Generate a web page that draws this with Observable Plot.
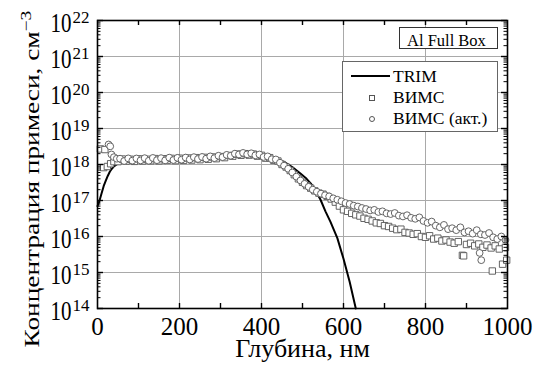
<!DOCTYPE html>
<html><head><meta charset="utf-8">
<script src="https://cdn.jsdelivr.net/npm/d3@7"></script>
<script src="https://cdn.jsdelivr.net/npm/@observablehq/plot@0.6"></script>
<style>
body{margin:0;background:#fff;}
#wrap{position:relative;width:533px;height:372px;}
#wrap svg{position:absolute;left:0;top:0;}
</style></head><body><div id="wrap"></div>
<script>
// ---- data ----
const trimDepth = [0,5,10,15,20,25,30,35,40,50,60,70,80,100,150,200,250,300,330,360,390,410,430,455,475,495,510,520,532,544,556,568,585,600,615,630];
const trimConc  = [7e16,1.0e17,1.6e17,2.5e17,3.5e17,4.8e17,6.3e17,7.6e17,8.9e17,1.07e18,1.17e18,1.22e18,1.25e18,1.28e18,1.32e18,1.36e18,1.42e18,1.52e18,1.62e18,1.72e18,1.76e18,1.72e18,1.55e18,1.18e18,8.5e17,5.6e17,4.0e17,3.0e17,1.9e17,1.05e17,5.0e16,2.6e16,9e15,2.4e15,5.5e14,1.0e14];

const simsDepth = [7,18,15,24,32,40,
  50,60,70,80,90,100,110,120,130,140,150,160,170,180,190,200,210,220,230,240,250,260,270,280,290,300,310,320,330,340,350,360,370,380,390,400,410,420,430,440,450,
  460,470,480,490,500,510,520,530,540,550,560,570,580,590,600,610,620,630,640,650,660,670,680,690,700,710,720,730,740,750,760,770,780,790,800,810,820,830,840,850,860,870,880,890,
  893,900,910,920,930,940,950,960,963,970,980,988,995,998];
const simsConc = [2.7e18,2.6e18,8.2e17,8.8e17,1.05e18,1.2e18,
  1.2e18,1.42e18,1.24e18,1.4e18,1.22e18,1.44e18,1.25e18,1.4e18,1.27e18,1.46e18,1.26e18,1.45e18,1.3e18,1.48e18,1.28e18,1.5e18,1.3e18,1.52e18,1.33e18,1.55e18,1.36e18,1.58e18,1.4e18,1.62e18,1.45e18,1.66e18,1.55e18,1.78e18,1.7e18,1.95e18,1.8e18,2.0e18,1.82e18,1.95e18,1.7e18,1.8e18,1.5e18,1.55e18,1.3e18,1.25e18,1.0e18,
  8.5e17,6.8e17,5.2e17,4.0e17,3.2e17,2.6e17,2.2e17,1.85e17,1.6e17,1.5e17,1.3e17,1.1e17,9.0e16,7.0e16,5.5e16,5.0e16,4.4e16,4.0e16,3.7e16,3.2e16,3.0e16,2.7e16,2.4e16,2.3e16,2.0e16,1.9e16,1.7e16,1.55e16,1.6e16,1.3e16,1.25e16,1.15e16,1.2e16,1.0e16,9.5e15,1.05e16,8.5e15,9.0e15,7.5e15,8.0e15,7.0e15,6.5e15,7.2e15,3.0e15,
  2.9e15,6.0e15,6.5e15,5.5e15,6.2e15,5.0e15,5.8e15,4.8e15,1.1e15,5.5e15,4.5e15,1.7e15,5.0e15,2.2e15];

const simsActDepth = [27,31,34,40,47,
  55,65,75,85,95,105,115,125,135,145,155,165,175,185,195,205,215,225,235,245,255,265,275,285,295,305,315,325,335,345,355,365,375,385,395,405,415,425,435,445,
  455,465,475,485,495,505,515,525,535,545,555,565,575,585,595,605,615,625,635,645,655,665,675,685,695,705,715,725,735,745,755,765,775,785,795,805,815,825,835,845,855,865,875,885,895,905,915,925,935,945,955,965,975,985,995,
  932,936];
const simsActConc = [3.6e18,3.2e18,1.9e18,1.6e18,1.45e18,
  1.45e18,1.25e18,1.48e18,1.28e18,1.47e18,1.3e18,1.5e18,1.27e18,1.52e18,1.32e18,1.5e18,1.3e18,1.55e18,1.33e18,1.53e18,1.36e18,1.56e18,1.38e18,1.6e18,1.42e18,1.62e18,1.45e18,1.68e18,1.5e18,1.75e18,1.6e18,1.85e18,1.75e18,2.0e18,1.9e18,2.1e18,1.92e18,2.05e18,1.8e18,1.9e18,1.62e18,1.68e18,1.4e18,1.38e18,1.12e18,
  9.3e17,7.6e17,6.0e17,4.6e17,3.6e17,2.9e17,2.4e17,2.0e17,1.75e17,1.55e17,1.4e17,1.3e17,1.15e17,1.05e17,9.5e16,8.5e16,8.0e16,7.2e16,6.8e16,6.2e16,5.8e16,5.3e16,5.5e16,4.8e16,5.0e16,4.4e16,4.2e16,4.5e16,3.8e16,3.6e16,3.9e16,3.3e16,3.1e16,3.4e16,2.7e16,2.4e16,2.6e16,2.0e16,1.8e16,2.1e16,1.6e16,1.7e16,1.5e16,1.8e16,1.3e16,1.4e16,1.2e16,1.5e16,1.15e16,1.1e16,1.25e16,9.5e15,8.5e15,1.0e16,8.0e15,
  3.5e15,2.2e15];

const xLabels = [0,200,400,600,800,1000];
const xGrid = [200,400,600,800];
const xTickMarks = [100,200,300,400,500,600,700,800,900];
const yMajor = [1e14,1e15,1e16,1e17,1e18,1e19,1e20,1e21,1e22];
const yMinorMult = [2,3,4,5,6,7,8,9];
const xTitle = "Глубина, нм";
const yTitle = "Концентрация примеси, см";
const yTitleSup = "−3";
const seriesNames = ["TRIM","ВИМС","ВИМС (акт.)"];
const boxLabel = "Al Full Box";

// ---- tables ----
const trim = trimDepth.map((d,i)=>({depth:d, conc:trimConc[i]}));
const sims = simsDepth.map((d,i)=>({depth:d, conc:simsConc[i]}));
const simsAct = simsActDepth.map((d,i)=>({depth:d, conc:simsActConc[i]}));
const yMinor = yMajor.slice(0,-1).flatMap(d=>yMinorMult.map(m=>m*d));

const W=533,H=372,mL=97,mR=26,mT=20,mB=64;
const plotW=W-mL-mR, plotH=H-mT-mB;
const font='"Liberation Serif","Times New Roman",serif';

const chart = Plot.plot({
  width:W, height:H, marginLeft:mL, marginRight:mR, marginTop:mT, marginBottom:mB,
  style:{fontFamily:font, background:"#fff", color:"#000"},
  x:{domain:[0,1000], axis:null},
  y:{type:"log", domain:[1e14,1e22], axis:null},
  marks:[
    Plot.ruleX(xGrid,{x:d=>d, stroke:"#a9a9a9", strokeWidth:1}),
    Plot.ruleY(yMajor,{y:d=>d, stroke:"#a9a9a9", strokeWidth:1}),
    Plot.line(trim,{x:"depth", y:"conc", stroke:"#000", strokeWidth:2}),
    Plot.dot(sims,{x:"depth", y:"conc", symbol:"square", r:3.6, stroke:"#555", strokeWidth:0.9, fill:"#fff"}),
    Plot.dot(simsAct,{x:"depth", y:"conc", symbol:"circle", r:3.4, stroke:"#555", strokeWidth:0.9, fill:"#fff"}),
    Plot.frame({stroke:"#000", strokeWidth:1.6}),
    Plot.tickY(yMajor,{y:d=>d, insetRight:plotW-6, stroke:"#000", strokeWidth:1.4}),
    Plot.tickY(yMajor,{y:d=>d, insetLeft:plotW-6, stroke:"#000", strokeWidth:1.4}),
    Plot.tickY(yMinor,{y:d=>d, insetRight:plotW-3.5, stroke:"#000", strokeWidth:1}),
    Plot.tickY(yMinor,{y:d=>d, insetLeft:plotW-3.5, stroke:"#000", strokeWidth:1}),
    Plot.tickX(xTickMarks,{x:d=>d, insetTop:plotH-5, stroke:"#000", strokeWidth:1.4}),
    Plot.tickX(xTickMarks,{x:d=>d, insetBottom:plotH-5, stroke:"#000", strokeWidth:1.4}),
    Plot.axisX({ticks:xLabels, tickSize:0, tickPadding:9, fontSize:25, label:null, tickFormat:d=>String(d)}),
    Plot.text(yMajor,{y:d=>d, text:()=> "10", frameAnchor:"left", textAnchor:"end", lineAnchor:"middle", dx:-26, dy:2.5, fontSize:21, fill:"#000", ariaDescription:"ybase"}),
    Plot.text(yMajor,{y:d=>d, text:d=>String(Math.round(Math.log10(d))), frameAnchor:"left", textAnchor:"start", lineAnchor:"middle", dx:-25, dy:-3, fontSize:17, fill:"#000"}),
    Plot.text([xTitle],{text:d=>d, frameAnchor:"bottom", lineAnchor:"middle", dy:40, fontSize:26, fill:"#000"}),
    Plot.text([yTitle],{text:d=>d, frameAnchor:"left", textAnchor:"middle", lineAnchor:"middle", rotate:-90, dx:-65, dy:14.5, fontSize:21, fill:"#000", ariaDescription:"ytitle"})
  ]
});
const wrap = document.getElementById("wrap");
wrap.appendChild(chart);

// vertical stretch of the "10" tick labels (as in the reference)
chart.querySelectorAll('g[aria-description="ybase"] text').forEach(el=>{
  const t = el.getAttribute("transform")||"";
  el.setAttribute("transform", t + " scale(1,1.35)");
});
// y title: superscript and stretched length
chart.querySelectorAll('g[aria-description="ytitle"] text').forEach(el=>{
  const ns="http://www.w3.org/2000/svg";
  const sup=document.createElementNS(ns,"tspan");
  sup.setAttribute("dy","-8"); sup.setAttribute("font-size","15");
  sup.textContent=yTitleSup;
  el.appendChild(sup);
  const len = el.getComputedTextLength();
  if (len > 0) {
    const k = 337/len;
    el.setAttribute("transform", (el.getAttribute("transform")||"") + ` scale(${k},1)`);
  }
});

// ---- legend overlay ----
const ov = d3.select(wrap).append("svg").attr("width",W).attr("height",H).style("font-family",font);
ov.append("rect").attr("x",399.5).attr("y",27.5).attr("width",98).attr("height",21)
  .attr("fill","#fff").attr("stroke","#333").attr("stroke-width",1);
ov.append("text").attr("x",407).attr("y",46).attr("font-size",16.5).attr("fill","#000").text(boxLabel);
ov.append("rect").attr("x",342.5).attr("y",61.5).attr("width",155).attr("height",70)
  .attr("fill","#fff").attr("stroke","#666").attr("stroke-width",1);
ov.append("line").attr("x1",351).attr("x2",390).attr("y1",76).attr("y2",76).attr("stroke","#000").attr("stroke-width",2);
ov.append("rect").attr("x",369.5).attr("y",95.5).attr("width",5).attr("height",5).attr("fill","#fff").attr("stroke","#555");
ov.append("circle").attr("cx",372).attr("cy",119).attr("r",2.5).attr("fill","#fff").attr("stroke","#555");
const ly=[82,103,124];
seriesNames.forEach((s,i)=>{
  ov.append("text").attr("x",393).attr("y",ly[i]).attr("font-size",17.5).attr("fill","#000").text(s);
});
</script></body></html>
